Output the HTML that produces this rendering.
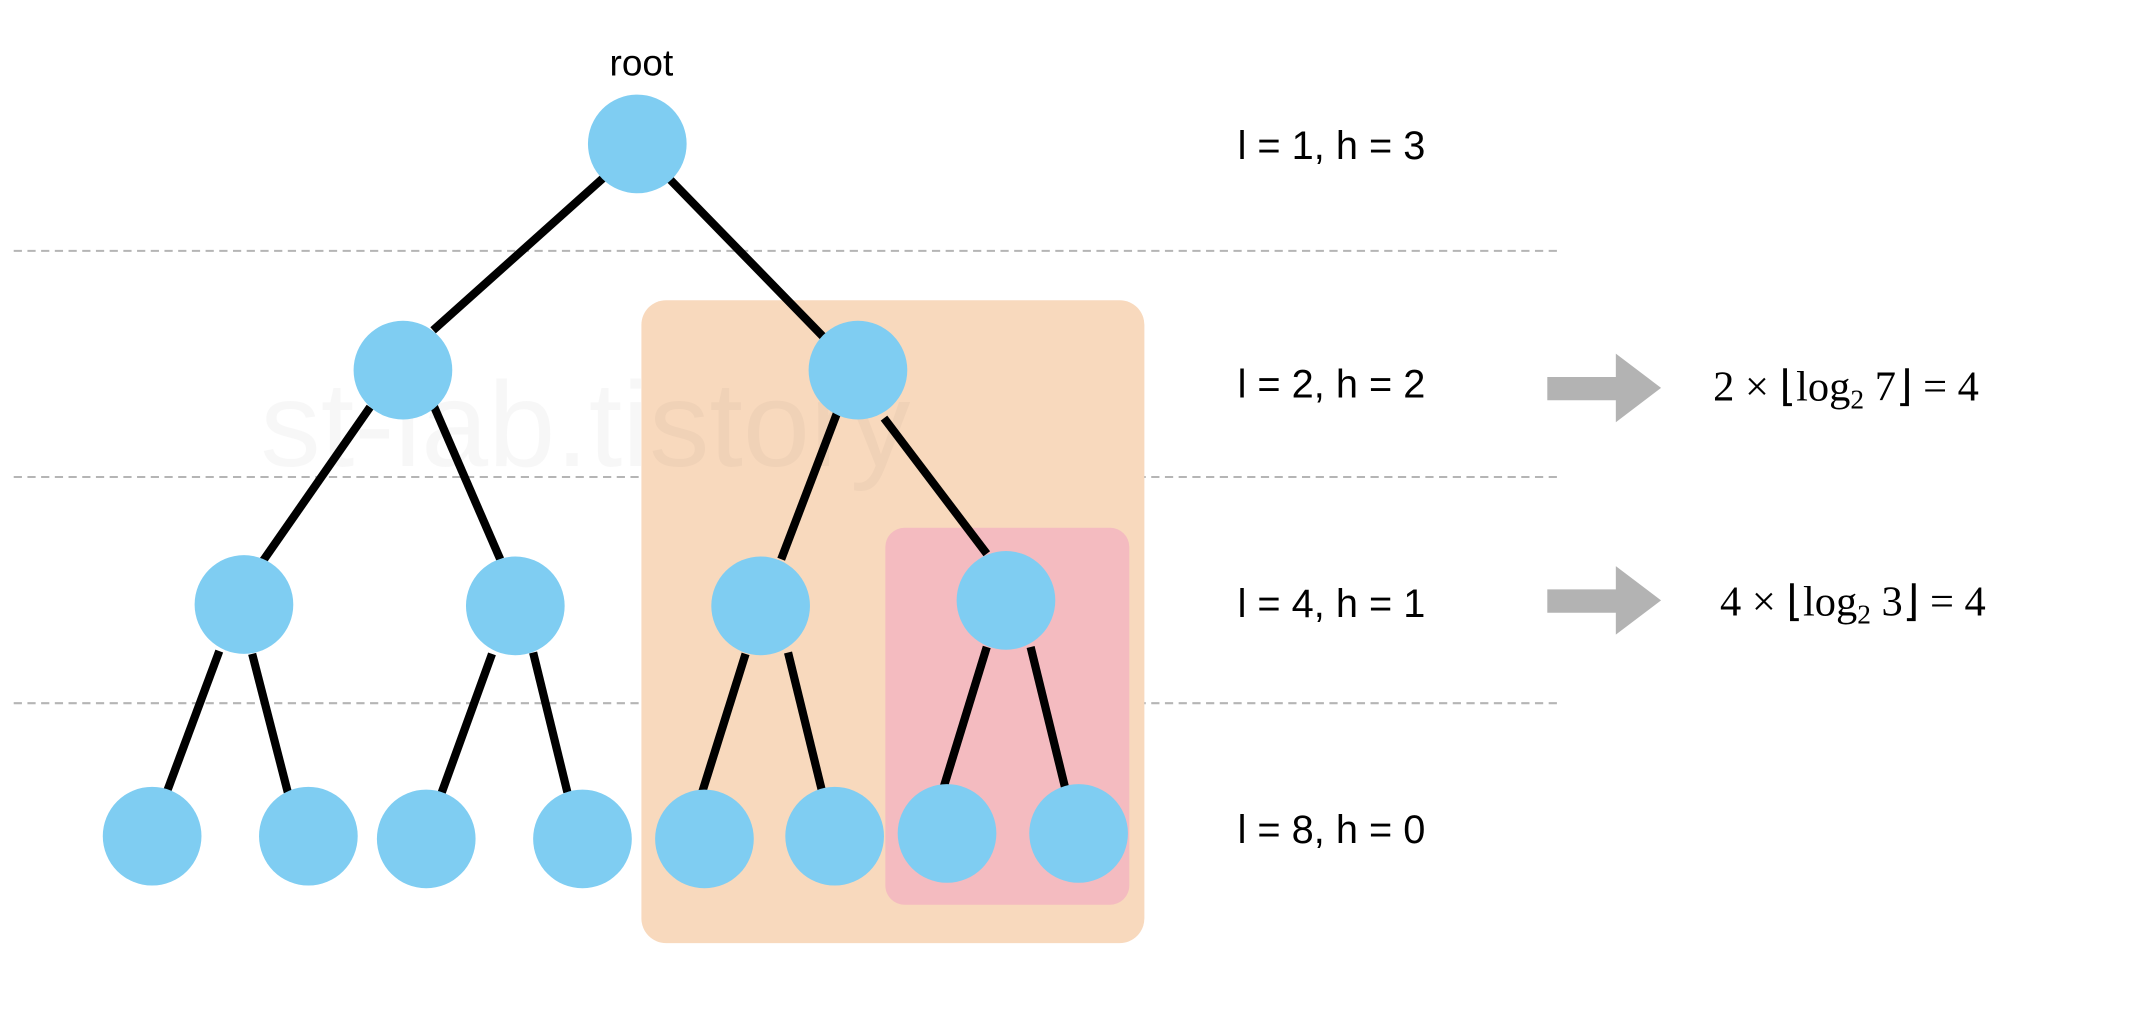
<!DOCTYPE html>
<html><head><meta charset="utf-8"><style>
html,body{margin:0;padding:0;background:#fff;}
svg{display:block;}
</style></head><body>
<svg width="2138" height="1013" viewBox="0 0 1560 739" preserveAspectRatio="none" xmlns="http://www.w3.org/2000/svg">
<rect x="0" y="0" width="1560" height="739" fill="#fff"/>
<g stroke="#b5b5b5" stroke-width="1.5" stroke-dasharray="6,4">
<line x1="10" y1="183" x2="1138" y2="183"/>
<line x1="10" y1="348" x2="1138" y2="348"/>
<line x1="10" y1="513" x2="1138" y2="513"/>
</g>
<rect x="468" y="219" width="367" height="469" rx="18" fill="#f8d9bd"/>
<rect x="646" y="385" width="178" height="275" rx="14" fill="#f4bbc0"/>
<text x="190" y="340" font-family="Liberation Sans, sans-serif" font-size="88" fill="#000" fill-opacity="0.03">st-lab.tistory</text>
<g stroke="#000" stroke-width="6" stroke-linecap="butt">
<line x1="440" y1="130" x2="316" y2="241"/>
<line x1="488" y1="130" x2="601" y2="246"/>
<line x1="270" y1="297" x2="192" y2="409"/>
<line x1="316" y1="295" x2="365" y2="408"/>
<line x1="612" y1="298" x2="570" y2="408"/>
<line x1="645" y1="305" x2="720" y2="404"/>
<line x1="160" y1="475" x2="122" y2="577"/>
<line x1="184" y1="477" x2="210" y2="578"/>
<line x1="359" y1="477" x2="322" y2="579"/>
<line x1="389" y1="476" x2="414" y2="578"/>
<line x1="544" y1="477" x2="512" y2="579"/>
<line x1="575" y1="476" x2="600" y2="578"/>
<line x1="720" y1="472" x2="688" y2="576"/>
<line x1="752" y1="472" x2="777" y2="574"/>
</g>
<g fill="#7fcdf2">
<circle cx="465" cy="105" r="36"/>
<circle cx="294" cy="270" r="36"/>
<circle cx="626" cy="270" r="36"/>
<circle cx="178" cy="441" r="36"/>
<circle cx="376" cy="442" r="36"/>
<circle cx="555" cy="442" r="36"/>
<circle cx="734" cy="438" r="36"/>
<circle cx="111" cy="610" r="36"/>
<circle cx="225" cy="610" r="36"/>
<circle cx="311" cy="612" r="36"/>
<circle cx="425" cy="612" r="36"/>
<circle cx="514" cy="612" r="36"/>
<circle cx="609" cy="610" r="36"/>
<circle cx="691" cy="608" r="36"/>
<circle cx="787" cy="608" r="36"/>
</g>
<text x="468" y="55" text-anchor="middle" font-family="Liberation Sans, sans-serif" font-size="27" fill="#000">root</text>
<g font-family="Liberation Sans, sans-serif" font-size="29" fill="#000">
<text x="903" y="116">l = 1, h = 3</text>
<text x="903" y="290">l = 2, h = 2</text>
<text x="903" y="450">l = 4, h = 1</text>
<text x="903" y="615">l = 8, h = 0</text>
</g>
<g fill="#b3b3b3">
<polygon points="1129,275 1179,275 1179,258 1212,283 1179,308 1179,292 1129,292"/>
<polygon points="1129,430 1179,430 1179,413 1212,438 1179,463 1179,447 1129,447"/>
</g>
<g font-family="Liberation Serif, serif" font-size="31" fill="#000">
<text x="1250" y="292">2 × ⌊log<tspan font-size="20" dy="6">2</tspan><tspan dy="-6"> 7⌋ = 4</tspan></text>
<text x="1255" y="449">4 × ⌊log<tspan font-size="20" dy="6">2</tspan><tspan dy="-6"> 3⌋ = 4</tspan></text>
</g>
</svg>
</body></html>
